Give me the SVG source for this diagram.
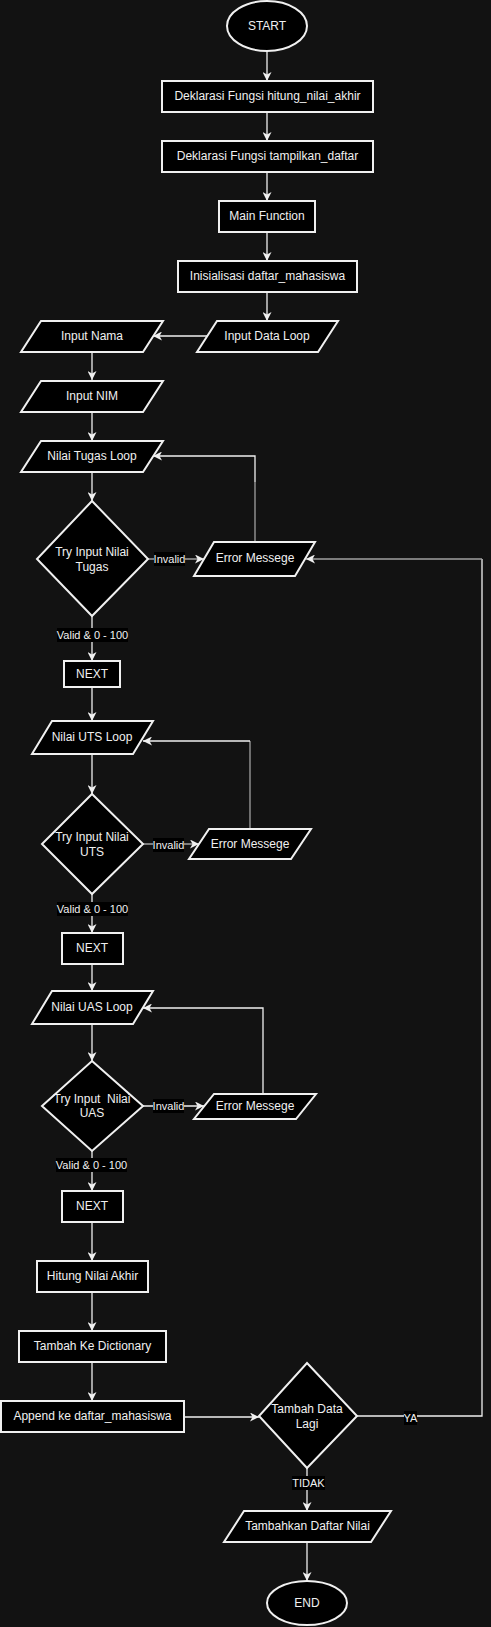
<svg xmlns="http://www.w3.org/2000/svg" width="491" height="1627" viewBox="0 0 491 1627">
<style>
.shape{fill:#000;stroke:#f0f0f0;stroke-width:2}
.t{font-family:"Liberation Sans",Arial,sans-serif;font-size:12px;fill:#f0f0f0;text-anchor:middle;dominant-baseline:central}
.lbl{font-family:"Liberation Sans",Arial,sans-serif;font-size:11px;fill:#f0f0f0;text-anchor:middle;dominant-baseline:central}
.e{fill:none;stroke:#f0f0f0;stroke-width:1.3}
.g{fill:none;stroke:#a0a0a0;stroke-width:1.3}
.lb{fill:#000}
</style>
<defs>
<marker id="arr" markerUnits="userSpaceOnUse" markerWidth="10" markerHeight="9" refX="9" refY="4.5" orient="auto">
<path d="M0,0 L9,4.5 L0,9 L2.5,4.5 Z" fill="#f0f0f0"/>
</marker>
</defs>
<rect x="0" y="0" width="491" height="1627" fill="#121212"/>

<g id="connectors">
<path class="e" d="M267,52 V81" marker-end="url(#arr)"/>
<path class="e" d="M267,112 V141" marker-end="url(#arr)"/>
<path class="e" d="M267,172 V201" marker-end="url(#arr)"/>
<path class="e" d="M267,232 V261" marker-end="url(#arr)"/>
<path class="e" d="M267,292 V321" marker-end="url(#arr)"/>
<path class="e" d="M207,336 H153" marker-end="url(#arr)"/>
<path class="e" d="M92,352 V380" marker-end="url(#arr)"/>
<path class="e" d="M92,412 V441" marker-end="url(#arr)"/>
<path class="e" d="M92,472 V501" marker-end="url(#arr)"/>
<path class="g" d="M148,559 H204" marker-end="url(#arr)"/>
<path class="g" d="M255,542 V482"/>
<path class="e" d="M255,482 V456 H153" marker-end="url(#arr)"/>
<path class="e" d="M92,616 V661" marker-end="url(#arr)"/>
<path class="e" d="M92,687 V721" marker-end="url(#arr)"/>
<path class="e" d="M92,754 V794" marker-end="url(#arr)"/>
<path class="g" d="M143,844 H199" marker-end="url(#arr)"/>
<path class="g" d="M250,829 V741"/>
<path class="e" d="M250,741 H143" marker-end="url(#arr)"/>
<path class="e" d="M92,894 V933" marker-end="url(#arr)"/>
<path class="e" d="M92,964 V991" marker-end="url(#arr)"/>
<path class="e" d="M92,1024 V1061" marker-end="url(#arr)"/>
<path class="e" d="M143,1106 H204" marker-end="url(#arr)"/>
<path class="e" d="M263,1094 V1008 H143" marker-end="url(#arr)"/>
<path class="e" d="M92,1151 V1191" marker-end="url(#arr)"/>
<path class="e" d="M92,1222 V1261" marker-end="url(#arr)"/>
<path class="e" d="M92,1292 V1331" marker-end="url(#arr)"/>
<path class="e" d="M92,1362 V1401" marker-end="url(#arr)"/>
<path class="e" d="M184,1417 H259" marker-end="url(#arr)"/>
<path class="e" d="M357,1416 H482 V559"/>
<path class="g" d="M482,559 H306" marker-end="url(#arr)"/>
<path class="e" d="M307,1468 V1511" marker-end="url(#arr)"/>
<path class="e" d="M307,1542 V1581" marker-end="url(#arr)"/>

<rect class="lb" x="154" y="552" width="31" height="14"/>
<text class="lbl" x="169.5" y="559">Invalid</text>
<rect class="lb" x="57" y="628" width="71" height="14"/>
<text class="lbl" x="92.5" y="635">Valid &amp; 0 - 100</text>
<rect class="lb" x="153" y="838" width="31" height="14"/>
<text class="lbl" x="168.5" y="845">Invalid</text>
<rect class="lb" x="57" y="902" width="71" height="14"/>
<text class="lbl" x="92.5" y="909">Valid &amp; 0 - 100</text>
<rect class="lb" x="153" y="1099" width="31" height="14"/>
<text class="lbl" x="168.5" y="1106">Invalid</text>
<rect class="lb" x="56" y="1158" width="71" height="14"/>
<text class="lbl" x="91.5" y="1165">Valid &amp; 0 - 100</text>
<rect class="lb" x="404" y="1411" width="13" height="14"/>
<text class="lbl" x="410.5" y="1418">YA</text>
<rect class="lb" x="292" y="1476" width="33" height="14"/>
<text class="lbl" x="308.5" y="1483">TIDAK</text>
</g>

<g id="start"><ellipse class="shape" cx="267" cy="26" rx="40" ry="25"/><text class="t" x="267" y="26">START</text></g>
<g id="decl1"><rect class="shape" x="162" y="81" width="211" height="31"/><text class="t" x="267.5" y="96">Deklarasi Fungsi hitung_nilai_akhir</text></g>
<g id="decl2"><rect class="shape" x="162" y="141" width="211" height="31"/><text class="t" x="267.5" y="156">Deklarasi Fungsi tampilkan_daftar</text></g>
<g id="main"><rect class="shape" x="219" y="201" width="96" height="31"/><text class="t" x="267" y="216">Main Function</text></g>
<g id="init"><rect class="shape" x="178" y="261" width="179" height="31"/><text class="t" x="267.5" y="276">Inisialisasi daftar_mahasiswa</text></g>
<g id="inputloop"><path class="shape" d="M217,321 L338,321 L318,352 L197,352 Z"/><text class="t" x="267" y="336">Input Data Loop</text></g>
<g id="nama"><path class="shape" d="M41,321 L163,321 L143,352 L21,352 Z"/><text class="t" x="92" y="336">Input Nama</text></g>
<g id="nim"><path class="shape" d="M41,381 L163,381 L143,412 L21,412 Z"/><text class="t" x="92" y="396">Input NIM</text></g>
<g id="tugasloop"><path class="shape" d="M41,441 L163,441 L143,472 L21,472 Z"/><text class="t" x="92" y="456">Nilai Tugas Loop</text></g>
<g id="tugasdec"><path class="shape" d="M92,501 L148,559 L92,616 L37,559 Z"/><text class="t" x="92" y="552">Try Input Nilai</text><text class="t" x="92" y="567">Tugas</text></g>
<g id="err1"><path class="shape" d="M214,542 L315,542 L295,576 L194,576 Z"/><text class="t" x="255" y="558">Error Messege</text></g>
<g id="next1"><rect class="shape" x="64" y="661" width="56" height="26"/><text class="t" x="92" y="674">NEXT</text></g>
<g id="utsloop"><path class="shape" d="M52,721 L153,721 L133,754 L32,754 Z"/><text class="t" x="92" y="737">Nilai UTS Loop</text></g>
<g id="utsdec"><path class="shape" d="M92,794 L143,844 L92,894 L42,844 Z"/><text class="t" x="92" y="837">Try Input Nilai</text><text class="t" x="92" y="852">UTS</text></g>
<g id="err2"><path class="shape" d="M209,829 L311,829 L291,859 L189,859 Z"/><text class="t" x="250" y="844">Error Messege</text></g>
<g id="next2"><rect class="shape" x="62" y="933" width="61" height="31"/><text class="t" x="92" y="948">NEXT</text></g>
<g id="uasloop"><path class="shape" d="M52,991 L153,991 L133,1024 L32,1024 Z"/><text class="t" x="92" y="1007">Nilai UAS Loop</text></g>
<g id="uasdec"><path class="shape" d="M92,1061 L143,1106 L92,1151 L42,1106 Z"/><text class="t" x="92" y="1099" xml:space="preserve">Try Input  Nilai</text><text class="t" x="92" y="1113">UAS</text></g>
<g id="err3"><path class="shape" d="M214,1094 L316,1094 L296,1119 L194,1119 Z"/><text class="t" x="255" y="1106">Error Messege</text></g>
<g id="next3"><rect class="shape" x="62" y="1191" width="61" height="31"/><text class="t" x="92" y="1206">NEXT</text></g>
<g id="hitung"><rect class="shape" x="37" y="1261" width="111" height="31"/><text class="t" x="92.5" y="1276">Hitung Nilai Akhir</text></g>
<g id="dict"><rect class="shape" x="19" y="1331" width="147" height="31"/><text class="t" x="92.5" y="1346">Tambah Ke Dictionary</text></g>
<g id="append"><rect class="shape" x="1" y="1401" width="183" height="31"/><text class="t" x="92.5" y="1416">Append ke daftar_mahasiswa</text></g>
<g id="lagi"><path class="shape" d="M307,1363 L357,1416 L307,1468 L259,1416 Z"/><text class="t" x="307" y="1409">Tambah Data</text><text class="t" x="307" y="1424">Lagi</text></g>
<g id="daftar"><path class="shape" d="M244,1511 L391,1511 L371,1542 L224,1542 Z"/><text class="t" x="307.5" y="1526">Tambahkan Daftar Nilai</text></g>
<g id="end"><ellipse class="shape" cx="307" cy="1603" rx="40" ry="22"/><text class="t" x="307" y="1603">END</text></g>
</svg>
